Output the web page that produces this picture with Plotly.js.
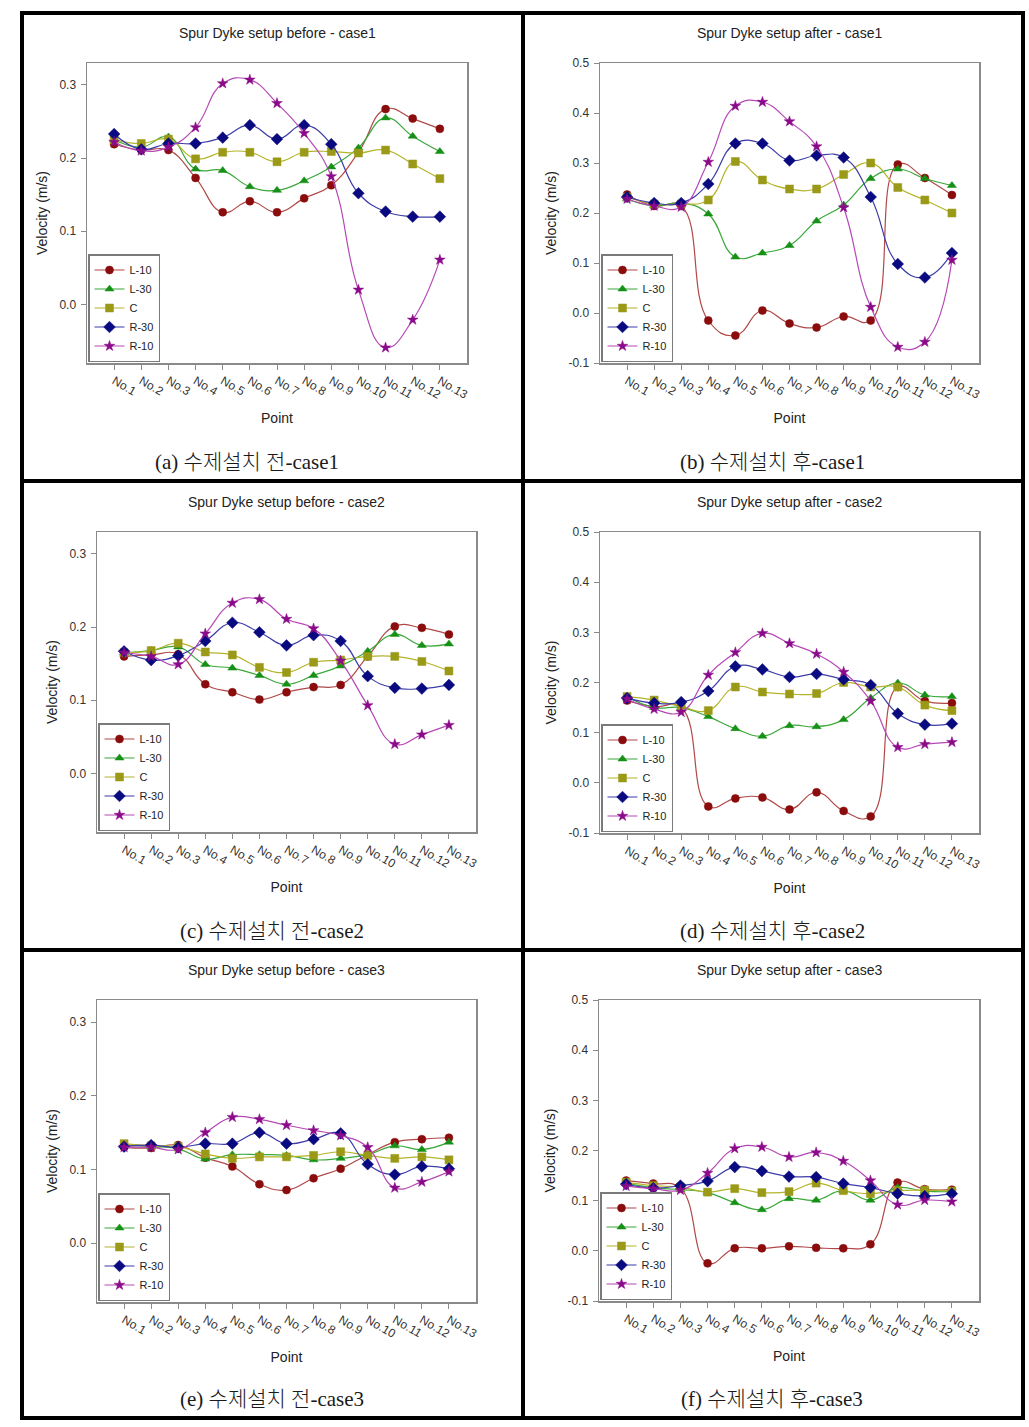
<!DOCTYPE html>
<html><head><meta charset="utf-8">
<script src="https://cdn.plot.ly/plotly-3.0.1.min.js"></script>
<style>html,body{margin:0;padding:0;background:#fff}#chart{width:1029px;height:1427px}</style>
</head><body><div id="chart"></div>
<script>
// ---------- DATA ----------
const points = ['No.1','No.2','No.3','No.4','No.5','No.6','No.7','No.8','No.9','No.10','No.11','No.12','No.13'];
const seriesNames = ['L-10','L-30','C','R-30','R-10'];

const panelTitles = [
  'Spur Dyke setup before - case1','Spur Dyke setup after - case1',
  'Spur Dyke setup before - case2','Spur Dyke setup after - case2',
  'Spur Dyke setup before - case3','Spur Dyke setup after - case3'
];
const panelCaptions = [
  '(a) 수제설치 전-case1','(b) 수제설치 후-case1',
  '(c) 수제설치 전-case2','(d) 수제설치 후-case2',
  '(e) 수제설치 전-case3','(f) 수제설치 후-case3'
];

// (a) before - case1   [L-10, L-30, C, R-30, R-10]
const beforeCase1 = [
  [0.219,0.211,0.211,0.173,0.126,0.141,0.126,0.145,0.163,0.208,0.267,0.254,0.240],
  [0.225,0.215,0.229,0.185,0.183,0.161,0.156,0.169,0.188,0.214,0.255,0.230,0.209],
  [0.225,0.220,0.226,0.199,0.208,0.208,0.195,0.208,0.209,0.207,0.211,0.192,0.172],
  [0.233,0.212,0.220,0.220,0.228,0.245,0.226,0.245,0.219,0.152,0.127,0.120,0.120],
  [0.222,0.210,0.215,0.242,0.302,0.307,0.275,0.234,0.175,0.020,-0.059,-0.021,0.061]
];
// (b) after - case1
const afterCase1 = [
  [0.237,0.214,0.214,-0.015,-0.045,0.005,-0.021,-0.029,-0.007,-0.015,0.297,0.270,0.236],
  [0.228,0.214,0.220,0.198,0.112,0.120,0.135,0.184,0.216,0.269,0.288,0.269,0.255],
  [0.232,0.218,0.218,0.226,0.303,0.266,0.248,0.248,0.277,0.300,0.251,0.226,0.200],
  [0.232,0.220,0.220,0.258,0.339,0.339,0.305,0.315,0.311,0.232,0.098,0.071,0.120],
  [0.228,0.214,0.212,0.302,0.414,0.422,0.383,0.333,0.211,0.012,-0.068,-0.058,0.106]
];
// (c) before - case2
const beforeCase2 = [
  [0.160,0.162,0.163,0.122,0.111,0.101,0.111,0.118,0.121,0.160,0.201,0.199,0.190],
  [0.165,0.168,0.173,0.149,0.144,0.134,0.122,0.134,0.147,0.167,0.190,0.175,0.177],
  [0.165,0.168,0.178,0.166,0.162,0.145,0.138,0.152,0.155,0.160,0.160,0.153,0.140],
  [0.167,0.155,0.161,0.181,0.206,0.193,0.175,0.189,0.181,0.133,0.117,0.116,0.121],
  [0.165,0.160,0.149,0.191,0.233,0.238,0.211,0.198,0.154,0.093,0.040,0.053,0.066]
];
// (d) after - case2
const afterCase2 = [
  [0.164,0.152,0.150,-0.047,-0.031,-0.029,-0.053,-0.019,-0.056,-0.067,0.191,0.163,0.159],
  [0.172,0.150,0.150,0.132,0.108,0.093,0.114,0.112,0.126,0.169,0.199,0.175,0.172],
  [0.172,0.165,0.152,0.144,0.191,0.181,0.177,0.178,0.200,0.191,0.191,0.155,0.144],
  [0.169,0.159,0.161,0.183,0.232,0.226,0.211,0.217,0.206,0.195,0.138,0.116,0.118],
  [0.167,0.147,0.141,0.215,0.260,0.298,0.278,0.257,0.221,0.163,0.071,0.077,0.081]
];
// (e) before - case3
const beforeCase3 = [
  [0.130,0.129,0.133,0.116,0.104,0.080,0.072,0.088,0.101,0.120,0.137,0.141,0.143],
  [0.133,0.131,0.128,0.114,0.120,0.120,0.119,0.113,0.115,0.120,0.132,0.127,0.137],
  [0.135,0.132,0.131,0.121,0.115,0.117,0.117,0.119,0.124,0.119,0.115,0.117,0.113],
  [0.131,0.133,0.130,0.135,0.135,0.150,0.135,0.141,0.149,0.107,0.093,0.104,0.101],
  [0.130,0.130,0.127,0.150,0.171,0.168,0.160,0.153,0.146,0.130,0.075,0.083,0.097]
];
// (f) after - case3
const afterCase3 = [
  [0.140,0.134,0.125,-0.025,0.005,0.005,0.009,0.006,0.005,0.013,0.136,0.123,0.122],
  [0.135,0.126,0.122,0.116,0.096,0.082,0.104,0.101,0.120,0.101,0.126,0.119,0.118],
  [0.137,0.130,0.127,0.117,0.124,0.116,0.118,0.135,0.120,0.114,0.120,0.121,0.119],
  [0.133,0.125,0.130,0.139,0.167,0.159,0.148,0.147,0.134,0.126,0.114,0.109,0.114],
  [0.129,0.124,0.121,0.155,0.204,0.207,0.187,0.196,0.179,0.140,0.092,0.101,0.098]
];

const yTickValsBefore = [0.0,0.1,0.2,0.3];
const yTickTextBefore = ['0.0','0.1','0.2','0.3'];
const yTickValsAfter = [-0.1,0.0,0.1,0.2,0.3,0.4,0.5];
const yTickTextAfter = ['-0.1','0.0','0.1','0.2','0.3','0.4','0.5'];

// ---------- STYLE / LAYOUT ----------
const W = 1029, H = 1427;
const px = v => v / W;
const py = v => 1 - v / H;
const FONT = 'Liberation Sans, Arial, sans-serif';

const lineColors   = ['#b04848','#3aa83a','#b4b42a','#3c3ca8','#b648b6'];
const markerColors = ['#8b0c0c','#169016','#9a9a18','#0a0a80','#8a0a8a'];
const symbols = ['circle','triangle-up','square','diamond','star'];
const sizes = [8,8,8,9,8];

const panelData = [beforeCase1, afterCase1, beforeCase2, afterCase2, beforeCase3, afterCase3];
const geom = [
  {x0:87, x1:467, y0:63,   y1:363,  ty:33,   cx:247, cy:462,  before:true},
  {x0:600,x1:979, y0:63,   y1:363,  ty:33,   cx:772, cy:462,  before:false},
  {x0:97, x1:476, y0:532,  y1:832,  ty:502,  cx:272, cy:931,  before:true},
  {x0:600,x1:979, y0:532,  y1:833,  ty:502,  cx:772, cy:931,  before:false},
  {x0:97, x1:476, y0:1000, y1:1302, ty:970,  cx:272, cy:1399, before:true},
  {x0:599,x1:979, y0:1000, y1:1301, ty:970,  cx:772, cy:1399, before:false}
];

const traces = [];
const layout = {
  width: W, height: H,
  margin: {l:0, r:0, t:0, b:0},
  paper_bgcolor: '#fff', plot_bgcolor: '#fff',
  font: {family: FONT, color: '#222'},
  annotations: [], shapes: []
};

geom.forEach((g, i) => {
  const n = i + 1;
  const sfx = n === 1 ? '' : String(n);
  const legKey = 'legend' + sfx;
  panelData[i].forEach((vals, k) => {
    traces.push({
      x: points, y: vals,
      xaxis: 'x' + sfx, yaxis: 'y' + sfx,
      legend: legKey,
      name: seriesNames[k],
      type: 'scatter', mode: 'lines+markers',
      line: {shape: 'spline', smoothing: 1.3, color: lineColors[k], width: 1.2},
      marker: {symbol: symbols[k], size: sizes[k], color: markerColors[k],
               line: {width: 0.5, color: markerColors[k]}},
      cliponaxis: true
    });
  });
  const axCommon = {
    showline: true, linecolor: '#8a8a8a', linewidth: 1.5, mirror: true,
    ticks: 'outside', ticklen: 5, tickcolor: '#8a8a8a', tickwidth: 1,
    showgrid: false, zeroline: false, fixedrange: true,
    tickfont: {family: FONT, size: 12, color: '#333'}
  };
  layout['xaxis' + sfx] = Object.assign({}, axCommon, {
    domain: [px(g.x0), px(g.x1)], anchor: 'y' + sfx,
    type: 'category', categoryorder: 'array', categoryarray: points,
    range: [-1, 13], tickangle: 30,
    title: {text: 'Point', font: {family: FONT, size: 14, color: '#222'}, standoff: 12}
  });
  layout['yaxis' + sfx] = Object.assign({}, axCommon, {
    domain: [py(g.y1), py(g.y0)], anchor: 'x' + sfx,
    range: g.before ? [-0.08, 0.33] : [-0.1, 0.5],
    tickmode: 'array',
    tickvals: g.before ? yTickValsBefore : yTickValsAfter,
    ticktext: g.before ? yTickTextBefore : yTickTextAfter,
    ticklabelstandoff: 2,
    title: {text: 'Velocity (m/s)', font: {family: FONT, size: 14, color: '#222'}, standoff: 8}
  });
  layout[legKey] = {
    x: px(g.x0 + 1), y: py(g.y1 - 1), xanchor: 'left', yanchor: 'bottom',
    xref: 'paper', yref: 'paper',
    bgcolor: '#fff', bordercolor: '#7a7a7a', borderwidth: 1.5,
    font: {family: FONT, size: 11, color: '#222'},
    tracegroupgap: 0, itemwidth: 30, traceorder: 'normal'
  };
  layout.annotations.push({
    text: panelTitles[i], xref: 'paper', yref: 'paper',
    x: px((g.x0 + g.x1) / 2), y: py(g.ty), xanchor: 'center', yanchor: 'middle',
    showarrow: false, font: {family: FONT, size: 14, color: '#222'}
  });
  layout.annotations.push({
    text: panelCaptions[i], xref: 'paper', yref: 'paper',
    x: px(g.cx), y: py(g.cy), xanchor: 'center', yanchor: 'middle',
    showarrow: false,
    font: {family: 'Liberation Serif, Noto Sans CJK KR, serif', size: 21, weight: 300, color: '#1a1a1a'}
  });
});

// table borders
const bw = 4;
layout.shapes.push({type:'rect', xref:'paper', yref:'paper', x0:px(22), x1:px(1023), y0:py(13), y1:py(1418), line:{color:'#000', width:bw}});
layout.shapes.push({type:'line', xref:'paper', yref:'paper', x0:px(523), x1:px(523), y0:py(13), y1:py(1418), line:{color:'#000', width:bw}});
layout.shapes.push({type:'line', xref:'paper', yref:'paper', x0:px(22), x1:px(1023), y0:py(481), y1:py(481), line:{color:'#000', width:bw}});
layout.shapes.push({type:'line', xref:'paper', yref:'paper', x0:px(22), x1:px(1023), y0:py(950), y1:py(950), line:{color:'#000', width:bw}});

Plotly.newPlot('chart', traces, layout, {staticPlot: true, displayModeBar: false});
</script>
</body></html>
